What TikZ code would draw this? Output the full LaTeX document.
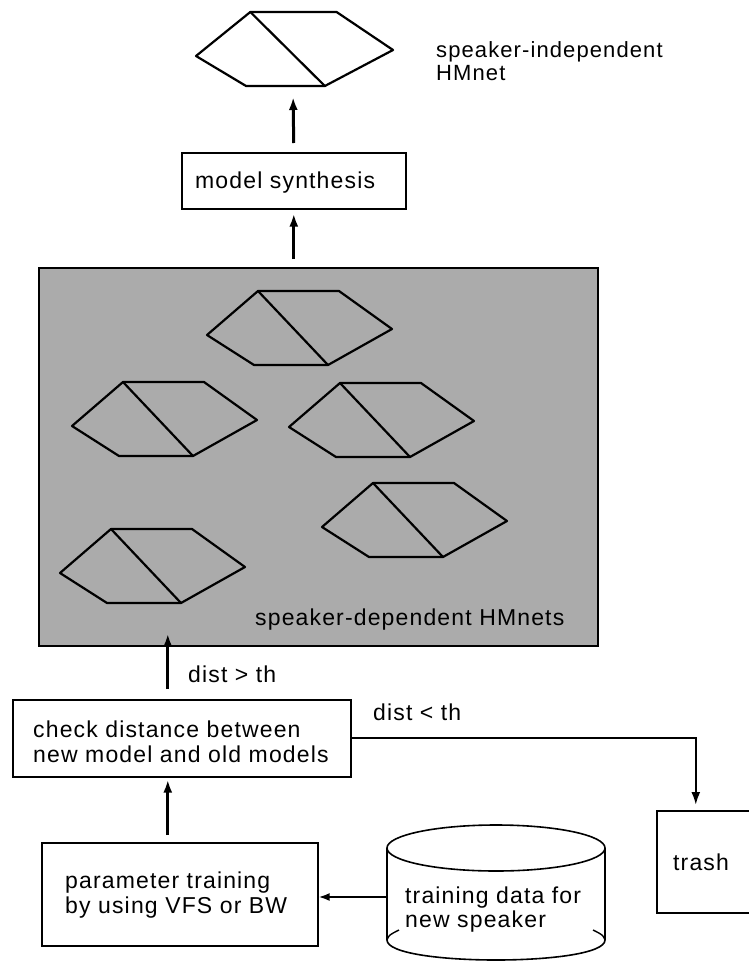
\documentclass[tikz,border=0pt]{standalone}
\usepackage{fontspec}
\setmainfont{Liberation Sans}[LetterSpace=5]
\usetikzlibrary{arrows.meta}
\begin{document}
\begin{tikzpicture}[x=1pt,y=-1pt,
  box/.style={draw, line width=1.6pt, inner sep=0pt, anchor=north west},
  txt/.style={anchor=base west, inner sep=0pt, font=\fontsize{23}{25}\selectfont},
  arr/.style={line width=3pt, -{Latex[length=13pt,width=9pt]}},
  arrthin/.style={line width=2pt, -{Latex[length=11pt,width=8pt]}},
  hexline/.style={line width=2.2pt, line join=round},
  pics/hmnet/.style={code={
    \draw[hexline] (0,0) -- (51,-44) -- (132,-44) -- (185,-6) -- (121,30) -- (47,30) -- cycle;
    \draw[hexline] (51,-44) -- (121,30);}}
]
\useasboundingbox (0,0) rectangle (749,961);

% top: speaker-independent HMnet
\pic[xscale=1.065] at (196,56) {hmnet};
\coordinate (tophex) at (293,85);
\node[txt, font=\fontsize{22}{23}\selectfont] (topA) at (436,57) {speaker-independent};
\node[txt, font=\fontsize{22}{23}\selectfont] (topB) at (436,80) {HMnet};

% model synthesis
\node[box, minimum width=224pt, minimum height=56pt] (synth) at (181,152) {};
\node[txt] (synthlbl) at (195,188) {model synthesis};

% speaker-dependent HMnets
\node[box, fill=black!33, minimum width=559pt, minimum height=378pt] (sd) at (38,267) {};
\pic at (207,335) {hmnet};
\pic at (72,426) {hmnet};
\pic at (289,427) {hmnet};
\pic at (322,527) {hmnet};
\pic at (60,573) {hmnet};
\node[txt] (sdlbl) at (255,625) {speaker-dependent HMnets};

% check distance
\node[box, minimum width=338pt, minimum height=77pt] (check) at (12,699) {};
\node[txt] (checkA) at (33,737) {check distance between};
\node[txt] (checkB) at (33,762) {new model and old models};

% parameter training
\node[box, minimum width=276pt, minimum height=103pt] (param) at (41,842) {};
\node[txt] (paramA) at (65,888) {parameter training};
\node[txt] (paramB) at (65,913) {by using VFS or BW};

% trash
\node[box, minimum width=106pt, minimum height=102pt] (trash) at (656,810) {};
\node[txt] (trashlbl) at (673,870) {trash};

% training data cylinder
\draw[line width=1.6pt] (387,848) -- (387,940) .. controls (387,966.67) and (605,966.67) .. (605,940) -- (605,848);
\draw[line width=1.6pt, fill=white] (496,848) ellipse [x radius=109pt, y radius=23pt];
\draw[line width=1.4pt] (387,940) .. controls (389,935) .. (399,930);
\draw[line width=1.4pt] (605,940) .. controls (603,935) .. (593,930);
\coordinate (cylW) at (387,897);
\node[txt] (dataA) at (405,903) {training data for};
\node[txt] (dataB) at (405,927) {new speaker};

% labels on connectors
\node[txt] (gt) at (188,682) {dist > th};
\node[txt] (lt) at (373,720) {dist < th};

% connectors
\draw[arr, shorten <=9pt, shorten >=12pt] (synth.north) -- (tophex);
\draw[arr, shorten <=8pt, shorten >=4pt] (sd.north -| synth.south) -- (synth.south);
\draw[arr, shorten <=10pt, shorten >=-13pt] ([xshift=-14pt]check.north) -- ([xshift=-14pt]check.north |- sd.south);
\draw[arr, shorten <=7pt, shorten >=2pt] ([xshift=-12pt]param.north) -- ([xshift=-12pt]param.north |- check.south);
\draw[arrthin] (cylW) -- (param.east |- cylW);
\draw[line width=2.2pt, -{Latex[length=13pt,width=9pt]}, shorten >=5pt] (check.east) -| ([xshift=-14pt]trash.north);
\end{tikzpicture}
\end{document}
